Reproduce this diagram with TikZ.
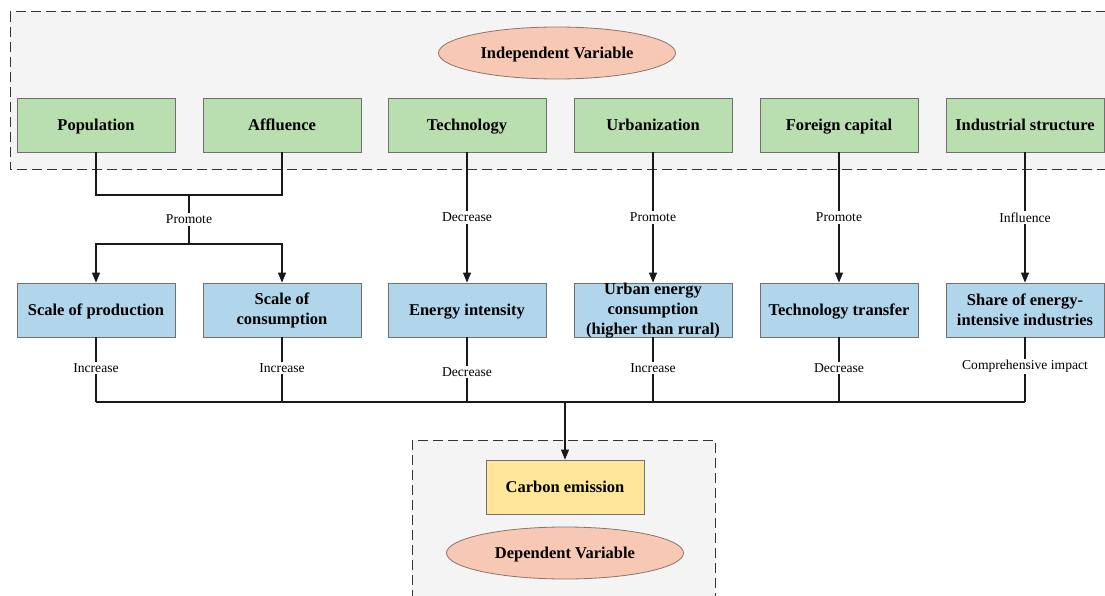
\documentclass[tikz,border=0pt]{standalone}
\usepackage{fontspec}
\setmainfont{Liberation Serif}
\usetikzlibrary{arrows.meta,shapes.geometric}
\definecolor{gfill}{HTML}{B9DEB0}
\definecolor{bfill}{HTML}{B1D6EC}
\definecolor{yfill}{HTML}{FFE699}
\definecolor{efill}{HTML}{F7C8B4}
\definecolor{eline}{HTML}{8C7468}
\definecolor{boxline}{HTML}{707070}
\definecolor{panel}{HTML}{F4F4F4}
\begin{document}
\begin{tikzpicture}[x=1pt,y=-1pt,
  greenbox/.style={draw=boxline, fill=gfill, minimum width=158pt, minimum height=54pt, inner sep=0pt, line width=0.8pt, font=\fontsize{16.5}{20}\selectfont\bfseries},
  oneline/.style={text height=12pt, text depth=1.5pt},
  bluebox/.style={greenbox, fill=bfill, align=center},
  yellowbox/.style={greenbox, fill=yfill},
  boxtext/.style={align=center, inner sep=0pt, font=\fontsize{16.5}{20}\selectfont\bfseries},
  varell/.style={ellipse, draw=eline, fill=efill, line width=0.8pt, minimum width=237pt, minimum height=52pt, inner sep=0pt, text height=12pt, text depth=1.5pt, font=\fontsize{16.5}{20}\selectfont\bfseries},
  lbl/.style={fill=white, inner sep=1.5pt, font=\fontsize{13.6}{16}\selectfont},
  conn/.style={line width=1.1pt, draw=black!90},
  arr/.style={conn, -{Triangle[length=10pt,width=8pt]}},
  panelbox/.style={draw=black!80, fill=panel, line width=1pt, dash pattern=on 10pt off 5pt}
]
\clip (0,0) rectangle (1105,596);
\fill[white] (0,0) rectangle (1105,596);

% panels
\draw[panelbox] (10,12) rectangle (1120,170);
\draw[panelbox] (412,440) rectangle (715,610);

% ellipses
\node[varell] (iv) at (557,53) {Independent Variable};
\node[varell] (dv) at (565,553) {Dependent Variable};

% green boxes
\node[greenbox, oneline] (p1) at (96,125) {Population};
\node[greenbox, oneline] (p2) at (282,125) {Affluence};
\node[greenbox, oneline] (p3) at (467,125) {Technology};
\node[greenbox, oneline] (p4) at (653,125) {Urbanization};
\node[greenbox, oneline] (p5) at (839,125) {Foreign capital};
\node[greenbox, oneline] (p6) at (1025,125) {Industrial structure};

% blue boxes
\node[bluebox, oneline] (q1) at (96,310) {Scale of production};
\node[bluebox] (q2) at (282,310) {Scale of\\consumption};
\node[bluebox, oneline] (q3) at (467,310) {Energy intensity};
\node[bluebox] (q4) at (653,310) {};
\node[boxtext] (q4t) at (653,311) {Urban energy\\consumption\\(higher than rural)};
\node[bluebox, oneline] (q5) at (839,310) {Technology transfer};
\node[bluebox] (q6) at (1025,310) {Share of energy-\\intensive industries};

% carbon emission
\node[yellowbox, oneline] (ce) at (565,487) {Carbon emission};

% top connectors
\coordinate (j1) at (189,195);
\coordinate (j2) at (189,244);
\draw[conn] (p1.south) |- (j1) -| (p2.south);
\draw[conn] (j1) -- node[lbl] {Promote} (j2);
\draw[arr] (j2) -| (q1.north);
\draw[arr] (j2) -| (q2.north);
\draw[arr] (p3.south) -- node[lbl] {Decrease} (q3.north);
\draw[arr] (p4.south) -- node[lbl] {Promote} (q4.north);
\draw[arr] (p5.south) -- node[lbl] {Promote} (q5.north);
\draw[arr] (p6.south) -- node[lbl] {Influence} (q6.north);

% bottom connectors
\coordinate (bus) at (565,402);
\draw[conn] (q1.south |- bus) -- (q6.south |- bus);
\draw[conn] (q1.south) -- node[lbl, pos=0.47] {Increase} (q1.south |- bus);
\draw[conn] (q2.south) -- node[lbl, pos=0.47] {Increase} (q2.south |- bus);
\draw[conn] (q3.south) -- node[lbl, pos=0.53] {Decrease} (q3.south |- bus);
\draw[conn] (q4.south) -- node[lbl, pos=0.47] {Increase} (q4.south |- bus);
\draw[conn] (q5.south) -- node[lbl, pos=0.47] {Decrease} (q5.south |- bus);
\draw[conn] (q6.south) -- node[lbl, pos=0.45] {Comprehensive impact} (q6.south |- bus);
\draw[arr] (bus) -- (ce.north);
\end{tikzpicture}
\end{document}
